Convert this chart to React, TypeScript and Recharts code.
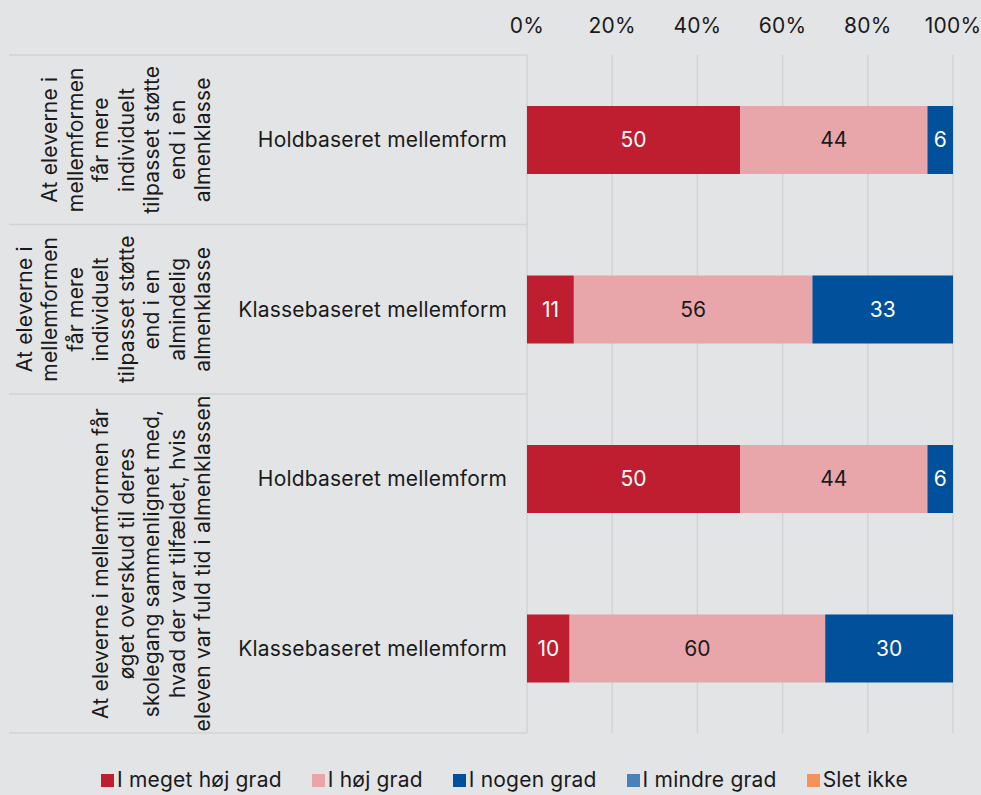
import { BarChart, Bar, XAxis, YAxis, CartesianGrid, Legend, LabelList } from "recharts";

// rows (top to bottom)
const categories = [
  "Holdbaseret mellemform",
  "Klassebaseret mellemform",
  "Holdbaseret mellemform",
  "Klassebaseret mellemform",
];
const rowGroup = [0, 1, 2, 2];

const groupLabels = [
  ["At eleverne i", "mellemformen", "får mere", "individuelt", "tilpasset støtte", "end i en", "almenklasse"],
  ["At eleverne i", "mellemformen", "får mere", "individuelt", "tilpasset støtte", "end i en", "almindelig", "almenklasse"],
  [
    "At eleverne i mellemformen får",
    "øget overskud til deres",
    "skolegang sammenlignet med,",
    "hvad der var tilfældet, hvis",
    "eleven var fuld tid i almenklassen",
  ],
];

const seriesNames = ["I meget høj grad", "I høj grad", "I nogen grad", "I mindre grad", "Slet ikke"];
const seriesColors = ["#be1e2f", "#e8a6ab", "#00509b", "#4a81b8", "#f5925a"];
const labelColors = ["#ffffff", "#1a1a1a", "#ffffff", "#ffffff", "#1a1a1a"];

const megetHoej = [50, 11, 50, 10];
const hoej = [44, 56, 44, 60];
const nogen = [6, 33, 6, 30];
const mindre = [0, 0, 0, 0];
const sletIkke = [0, 0, 0, 0];
const seriesValues = [megetHoej, hoej, nogen, mindre, sletIkke];

const xTicks = [0, 20, 40, 60, 80, 100];

const data = categories.map((c, i) => {
  const row: any = { id: "r" + i, label: c };
  seriesValues.forEach((vals, s) => (row["s" + s] = vals[i]));
  return row;
});

const W = 981;
const H = 795;
const TOP = 25;
const X_AXIS_H = 30;
const BOTTOM = 62;
const AXIS_W = 527;
const PLOT_H = H - TOP - X_AXIS_H - BOTTOM;
const BAND = PLOT_H / categories.length;
const FONT = "Inter, 'Noto Sans', sans-serif";
const FS = 21;
const LS = 0.2;
const TEXT = "#1a1a1a";
const LINE = "#d2d3d5";

function RowTick(props: any) {
  const { x, y, index } = props;
  const g = rowGroup[index];
  const first = rowGroup.indexOf(g) === index;
  const span = rowGroup.filter((v) => v === g).length;
  const last = index === categories.length - 1;
  const lines = groupLabels[g];
  const gy = y + ((span - 1) * BAND) / 2;
  const lastBase = 210;
  const lh = 25.5;
  return (
    <g>
      <text x={x} y={y} textAnchor="end" dominantBaseline="central" fontSize={FS} letterSpacing={LS} fill={TEXT} fontFamily={FONT}>
        {categories[index]}
      </text>
      {first && (
        <>
          <line x1={9} x2={AXIS_W} y1={y - BAND / 2} y2={y - BAND / 2} stroke={LINE} strokeWidth={1.5} />
          <text
            transform={`translate(${lastBase - (lines.length - 1) * lh}, ${gy}) rotate(-90)`}
            textAnchor="middle"
            fontSize={FS}
            letterSpacing={LS}
            fill={TEXT}
            fontFamily={FONT}
          >
            {lines.map((l, k) => (
              <tspan key={k} x={0} y={k * lh}>
                {l}
              </tspan>
            ))}
          </text>
        </>
      )}
      {last && <line x1={9} x2={AXIS_W} y1={y + BAND / 2} y2={y + BAND / 2} stroke={LINE} strokeWidth={1.5} />}
    </g>
  );
}

function LegendContent() {
  return (
    <div
      style={{
        display: "flex",
        justifyContent: "center",
        gap: 30,
        paddingLeft: 28,
        fontFamily: FONT,
        fontSize: FS,
        lineHeight: "24px",
        letterSpacing: LS,
        color: TEXT,
      }}
    >
      {seriesNames.map((n, i) => (
        <div key={n} style={{ display: "flex", alignItems: "center" }}>
          <span style={{ width: 13, height: 13, background: seriesColors[i], marginRight: 3, display: "inline-block" }} />
          <span>{n}</span>
        </div>
      ))}
    </div>
  );
}

export default function App() {
  return (
    <div style={{ width: W, height: H, background: "#e3e4e6", fontFamily: FONT }}>
      <style>{"body{margin:0;background:#e3e4e6}"}</style>
      <BarChart
        width={W}
        height={H}
        data={data}
        layout="vertical"
        margin={{ top: TOP, right: 28, bottom: BOTTOM, left: 0 }}
        barSize={68}
      >
        <CartesianGrid horizontal={false} stroke={LINE} strokeWidth={1.5} />
        <XAxis
          type="number"
          orientation="top"
          domain={[0, 100]}
          ticks={xTicks}
          height={X_AXIS_H}
          axisLine={false}
          tickLine={false}
          tickSize={6}
          tickMargin={16}
          tickFormatter={(v) => `${v}%`}
          tick={{ fontSize: FS, fill: TEXT, fontFamily: FONT, letterSpacing: LS }}
        />
        <YAxis
          type="category"
          dataKey="id"
          width={AXIS_W}
          axisLine={false}
          tickLine={false}
          tickSize={0}
          tickMargin={20}
          tick={<RowTick />}
          interval={0}
        />
        <Legend
          verticalAlign="middle"
          content={<LegendContent />}
          wrapperStyle={{ top: 768, left: 0, width: W }}
        />
        {seriesNames.map((n, s) => (
          <Bar key={n} dataKey={"s" + s} name={n} stackId="a" fill={seriesColors[s]} isAnimationActive={false}>
            <LabelList
              dataKey={"s" + s}
              position="center"
              fill={labelColors[s]}
              fontSize={FS}
              fontFamily={FONT}
              formatter={(v: any) => (v ? v : "")}
            />
          </Bar>
        ))}
      </BarChart>
    </div>
  );
}
